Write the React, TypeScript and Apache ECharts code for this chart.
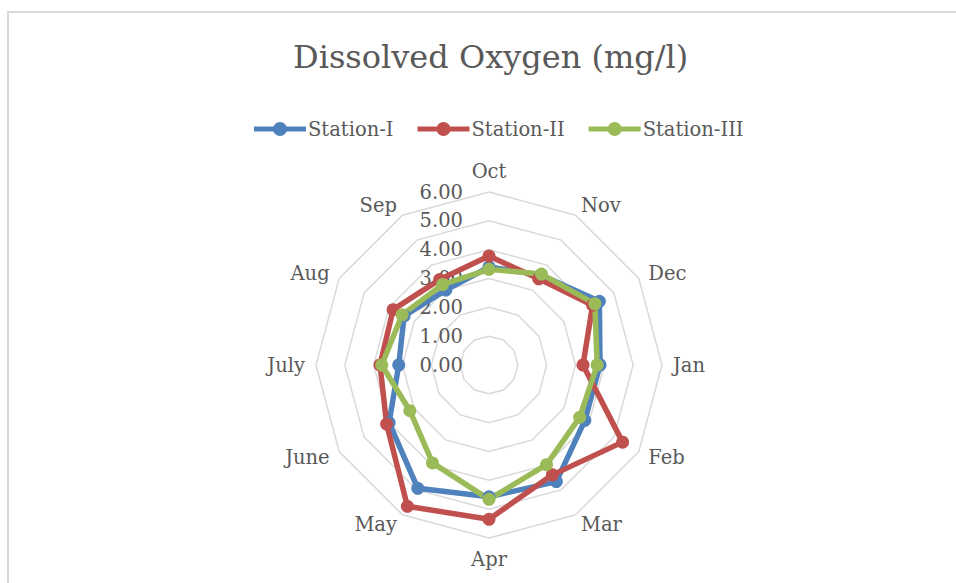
import React, { useEffect, useRef } from "react";
import * as echarts from "echarts";

const months = ["Oct", "Nov", "Dec", "Jan", "Feb", "Mar", "Apr", "May", "June", "July", "Aug", "Sep"];
const stationI = [3.4, 3.6, 4.42, 3.85, 3.84, 4.67, 4.57, 4.94, 4.0, 3.13, 3.4, 3.0];
const stationII = [3.78, 3.45, 4.15, 3.26, 5.35, 4.4, 5.35, 5.66, 4.1, 3.78, 3.84, 3.42];
const stationIII = [3.32, 3.64, 4.24, 3.75, 3.63, 3.99, 4.66, 3.92, 3.17, 3.72, 3.48, 3.22];
const seriesNames = ["Station-I", "Station-II", "Station-III"];
const colors = ["#4F81BD", "#C0504D", "#9BBB59"];
const axisMax = 6;

const FONT = "DejaVu Serif";
const TEXT = "#595959";
const legendIcon =
  "path://M0,4.5 L52,4.5 L52,9.5 L0,9.5 Z M19,7 A7,7 0 1,1 33,7 A7,7 0 1,1 19,7 Z";

// ECharts radar runs counter-clockwise; reorder so the months run clockwise
const order = months.map((_, i) => (i === 0 ? 0 : months.length - i));
const reorder = <T,>(arr: T[]) => order.map((k) => arr[k]);

export default function App() {
  const ref = useRef<HTMLDivElement>(null);
  useEffect(() => {
    if (!ref.current) return;
    const chart = echarts.init(ref.current, undefined, { renderer: "svg" });
    const center = [489, 365];
    const radius = 173;
    const values = [stationI, stationII, stationIII];
    chart.setOption({
      animation: false,
      title: {
        text: "Dissolved Oxygen (mg/l)",
        left: 288,
        top: 36,
        textStyle: { fontFamily: FONT, fontSize: 32, fontWeight: "normal", color: TEXT },
      },
      legend: {
        top: 114,
        left: 249,
        itemWidth: 52,
        itemHeight: 14,
        itemGap: 24,
        icon: legendIcon,
        textStyle: { fontFamily: FONT, fontSize: 19.5, color: TEXT, padding: [0, 0, 0, -3] },
        data: seriesNames,
      },
      radar: {
        center,
        radius,
        shape: "polygon",
        startAngle: 90,
        splitNumber: 6,
        indicator: reorder(months).map((m) => ({ name: m, min: 0, max: axisMax })),
        axisName: { color: TEXT, fontFamily: FONT, fontSize: 19.5 },
        nameGap: 11,
        axisLine: { show: false },
        axisTick: { show: false },
        splitArea: { show: false },
        splitLine: { lineStyle: { color: "#D9D9D9", width: 1.5 } },
        axisLabel: { show: false },
      },
      polar: { center, radius },
      angleAxis: { show: false, startAngle: 90, min: 0, max: 360 },
      radiusAxis: {
        min: 0,
        max: axisMax,
        interval: 1,
        axisLine: { show: false },
        axisTick: { show: false },
        splitLine: { show: false },
        axisLabel: {
          formatter: (v: number) => v.toFixed(2),
          color: TEXT,
          fontFamily: FONT,
          fontSize: 19.5,
          margin: 26,
        },
      },
      series: seriesNames.map((name, i) => ({
        name,
        type: "radar",
        symbol: "circle",
        symbolSize: 13,
        itemStyle: { color: colors[i] },
        lineStyle: { color: colors[i], width: 5.5 },
        data: [{ value: reorder(values[i]), name }],
      })),
    });
    return () => chart.dispose();
  }, []);
  return (
    <div style={{ position: "fixed", left: 0, top: 0, width: 956, height: 583, overflow: "hidden", background: "#fff" }}>
      <div
        style={{
          position: "absolute",
          left: 7,
          top: 11,
          width: 1000,
          height: 1000,
          border: "2px solid #D9D9D9",
        }}
      />
      <div ref={ref} style={{ position: "absolute", left: 0, top: 0, width: 956, height: 583 }} />
    </div>
  );
}
